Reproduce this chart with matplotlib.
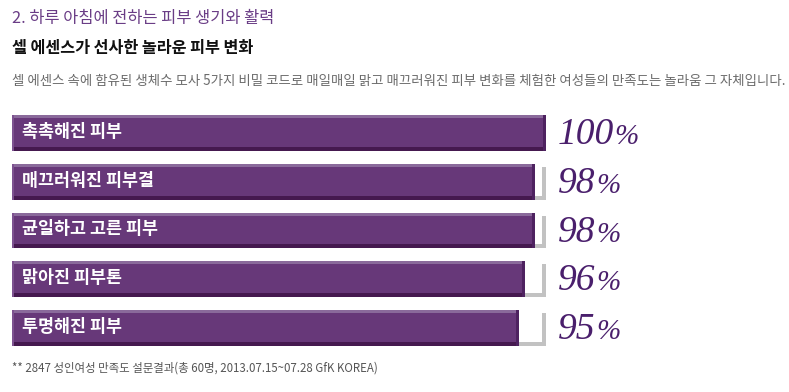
import matplotlib
matplotlib.use("Agg")
import matplotlib.pyplot as plt

plt.rcParams['font.family'] = ['Noto Sans CJK KR', 'DejaVu Sans']

categories = ["촉촉해진 피부", "매끄러워진 피부결", "균일하고 고른 피부", "맑아진 피부톤", "투명해진 피부"]
values = [100, 98, 98, 96, 95]
value_labels = ["100", "98", "98", "96", "95"]

title1 = "2. 하루 아침에 전하는 피부 생기와 활력"
title2 = "셀 에센스가 선사한 놀라운 피부 변화"
subtitle = ("셀 에센스 속에 함유된 생체수 모사 5가지 비밀 코드로 매일매일 맑고 매끄러워진 피부 변화를 "
            "체험한 여성들의 만족도는 놀라움 그 자체입니다.")
footnote = "** 2847 성인여성 만족도 설문결과(총 60명, 2013.07.15~07.28 GfK KOREA)"

W, H = 789, 392
fig = plt.figure(figsize=(W / 100, H / 100), dpi=100)
fig.patch.set_facecolor("white")

def fx(px):
    return px / W

def fy(py):
    return 1 - py / H

ax_left, ax_right = 12, 546
ax_top, ax_bot = 109, 352
ax = fig.add_axes([fx(ax_left), fy(ax_bot), fx(ax_right - ax_left), (ax_bot - ax_top) / H])
ax.set_xlim(0, 100)
ax.set_ylim(len(categories) - 0.5, -0.5)
ax.axis("off")

n = len(categories)
pos = list(range(n))
bh = 0.74
px_per_unit_y = (ax_bot - ax_top) / n
def pyu(p):
    return p / px_per_unit_y
px_per_unit_x = (ax_right - ax_left) / 100.0
def pxu(p):
    return p / px_per_unit_x

bar_main = "#673879"
bar_top = "#8a6a9b"
bar_bot = "#45194f"
bar_right = "#4e2260"
track_gray = "#c2c2c2"

for i, v in zip(pos, values):
    y_top = i - bh / 2
    if v < 100:
        ax.barh(i, 100, height=bh, left=0, color=track_gray, linewidth=0, zorder=1)
        ax.barh(y_top + (bh - pyu(4)) / 2, 100 - pxu(4), height=bh - pyu(4),
                left=0, color="white", linewidth=0, zorder=1.5)
        ax.barh(y_top + pyu(1.5), 100, height=pyu(3), left=0, color="white", linewidth=0, zorder=1.5)
    ax.barh(i, v, height=bh, left=0, color=bar_main, linewidth=0, zorder=2)
    ax.barh(y_top + pyu(1.5), v, height=pyu(3), left=0, color=bar_top, linewidth=0, zorder=3)
    ax.barh(y_top + bh - pyu(2), v, height=pyu(4), left=0, color=bar_bot, linewidth=0, zorder=3)
    ax.barh(i, pxu(3), height=bh, left=v - pxu(3), color=bar_right, linewidth=0, zorder=3.5)
    ax.barh(i, pxu(1.5), height=bh, left=0, color="#7d5290", linewidth=0, zorder=3.5)

for i, c in zip(pos, categories):
    ax.text(pxu(10), i - pyu(1), c, color="white", fontsize=12.5, fontweight="bold",
            va="center", ha="left", zorder=5)

fig.canvas.draw()
renderer = fig.canvas.get_renderer()
pct_color = "#4a1f6c"
for i, lab in zip(pos, value_labels):
    yc = ax_top + (i + 0.5) * px_per_unit_y
    t = fig.text(fx(558), fy(yc + 11), lab, fontsize=27, family="Liberation Serif",
                 style="italic", color=pct_color, ha="left", va="baseline")
    bb = t.get_window_extent(renderer=renderer)
    fig.text(bb.x1 / W + fx(0.5), fy(yc + 11), "%", fontsize=21, family="Liberation Serif",
             style="italic", color=pct_color, ha="left", va="baseline")

fig.text(fx(12), fy(18), title1, fontsize=11.8, color="#6a3d86", ha="left", va="center")
fig.text(fx(12), fy(48), title2, fontsize=11.7, fontweight="bold", color="#111111", ha="left", va="center")
fig.text(fx(12), fy(81), subtitle, fontsize=9.65, color="#6b6b6b", ha="left", va="center")
fig.text(fx(12), fy(368), footnote, fontsize=8.25, color="#555555", ha="left", va="center")

fig.savefig("out.png", dpi=100, facecolor="white")
